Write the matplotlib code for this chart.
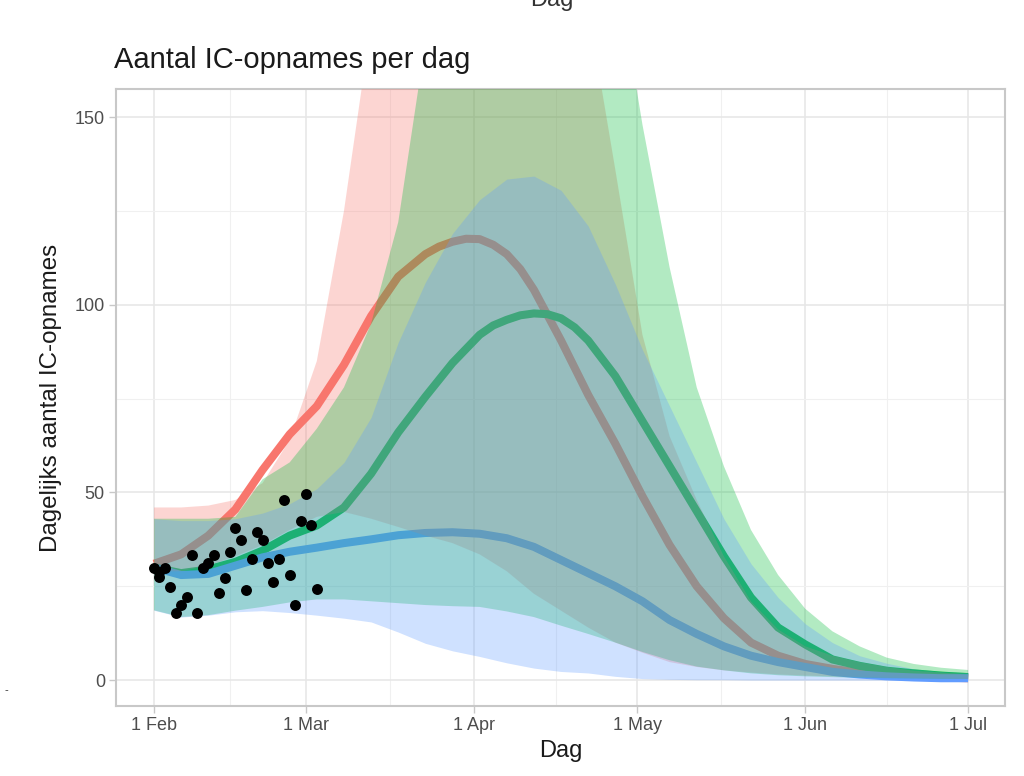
import matplotlib
matplotlib.use("Agg")
import matplotlib.pyplot as plt
import numpy as np

plt.rcParams['font.family'] = ['Liberation Sans', 'DejaVu Sans']

# dagen vanaf 1 februari 2021 (banden)
days = np.arange(0, 151, 5)

# scenario 1 (rood)
rood_dag = [0, 5, 10, 15, 20, 25, 30, 35, 40, 45, 50, 52.5, 55, 57.5, 60, 62.5, 65, 67.5, 70,
            75, 80, 85, 90, 95, 100, 105, 110, 115, 120, 125, 130, 135, 140, 145, 150]
rood_mid = [31, 33.5, 38.5, 45.5, 56, 65.5, 73, 84, 97, 107.5, 113.5, 115.5, 116.8, 117.6, 117.5,
            116, 113.5, 109.5, 104, 90.5, 76, 63, 49, 36, 25, 16.5, 10, 6.5, 4.3, 3, 2, 1.5, 1,
            0.7, 0.5]
rood_hoog = [46, 46, 46.5, 48, 52.5, 64, 85, 125, 175, 240, 290, 320, 330, 320, 290,
             250, 179, 136, 92, 65, 48, 33, 21, 13.5, 9, 6.5, 4.8, 3.5, 2.5, 2, 1.5]
rood_laag = [29, 29, 30.5, 33, 36, 40, 43.5, 44.8, 43, 40.8, 38.5, 36.5, 33.5, 29, 23,
             18.5, 14, 10, 7.3, 4.8, 3.5, 2.6, 2, 1.5, 1.2, 1, 0.8, 0.6, 0.5, 0.4, 0.3]

# scenario 2 (groen)
groen_dag = [0, 5, 10, 15, 20, 25, 30, 35, 40, 45, 50, 55, 60, 62.5, 65, 67.5, 70, 72.5, 75,
             77.5, 80, 85, 90, 95, 100, 105, 110, 115, 120, 125, 130, 135, 140, 145, 150]
groen_mid = [30, 28.5, 29.5, 31.5, 34.5, 38.5, 41.2, 46, 55, 66, 75.5, 84.5, 92, 94.5, 96,
             97.2, 97.7, 97.5, 96.4, 94, 90.5, 81, 69, 57, 45, 33, 22, 14, 9.5, 5.5, 3.8, 2.5,
             1.8, 1.2, 0.8]
groen_hoog = [43, 43, 43, 43.5, 53.5, 58, 67, 78, 95, 122, 170, 220, 260, 280, 280,
              260, 230, 192, 148, 110, 78, 57, 40, 28, 19, 13, 9, 6, 4.3, 3.3, 2.7]
groen_laag = [18.6, 16.8, 17.3, 18.5, 19.5, 20.7, 21.5, 21.5, 21, 20.5, 20, 19.7, 19.5, 18.3, 16.8,
              14.5, 12.3, 10, 7.5, 5.3, 3.6, 2.6, 1.8, 1.3, 1, 0.8, 0.6, 0.5, 0.4, 0.3, 0.3]

# scenario 3 (blauw)
blauw_mid = [30, 28, 28.3, 30.5, 32.7, 34.2, 35.3, 36.5, 37.5, 38.6, 39.2, 39.4, 39, 37.8, 35.5,
             32, 28.5, 25, 21, 16, 12.3, 9, 6.5, 4.8, 3.5, 2.2, 1.5, 1, 0.7, 0.5, 0.5]
blauw_hoog = [43, 42.5, 42.5, 43, 44.5, 47, 51, 58, 70, 90, 106, 119, 128, 133.5, 134.3,
              130.5, 121, 105.5, 88, 73, 58, 43, 31, 22, 15, 10, 6.5, 4.5, 3, 2.3, 2]
blauw_laag = [18.6, 16.8, 17.3, 18.2, 18.5, 18, 17.3, 16.5, 15.5, 12.8, 9.8, 7.8, 6.3, 4.6, 3.2,
              2.3, 1.9, 1, 0.4, 0.2, 0.1, 0.1, 0, 0, 0, 0, 0, 0, 0, 0, 0]

# waargenomen IC-opnames
obs_dag = [0, 1, 1, 2, 3, 4, 5, 6, 7, 8, 9, 10, 11, 12, 13, 14, 15, 16, 17, 18, 19, 20,
           21, 22, 23, 24, 25, 26, 27, 28, 29, 30]
obs_val = [30, 27.5, 28.8, 30, 24.9, 17.8, 20, 22.2, 33.3, 17.8, 29.8, 31.1, 33.3, 23.1, 27.1, 34.2,
           40.4, 37.3, 24, 32.4, 39.5, 37.3, 31.1, 26.2, 32.4, 48, 28, 20, 42.4, 49.7, 41.3, 24.2]

tick_days = [0, 28, 59, 89, 120, 150]
tick_labels = ['1 Feb', '1 Mar', '1 Apr', '1 May', '1 Jun', '1 Jul']

kleuren = ['#F8766D', '#00BA38', '#619CFF']

fig = plt.figure(figsize=(10.24, 7.76), dpi=100)
ax = fig.add_axes([116/1024, 70/776, 889/1024, 617/776])

# lijnen eerst, banden eroverheen (zoals in ggplot)
for dag, mid, kl in zip([rood_dag, groen_dag, days], [rood_mid, groen_mid, blauw_mid], kleuren):
    ax.plot(dag, mid, color=kl, lw=5.8, solid_capstyle='butt', solid_joinstyle='round', zorder=2)
for hoog, laag, kl in zip([rood_hoog, groen_hoog, blauw_hoog],
                          [rood_laag, groen_laag, blauw_laag], kleuren):
    ax.fill_between(days, laag, hoog, color=kl, alpha=0.3, lw=0, zorder=3)

ax.scatter(obs_dag, obs_val, s=62, color='black', zorder=4, lw=0)

ax.set_xlim(-7, 156.8)
ax.set_ylim(-6.9, 157.5)
ax.set_xticks(tick_days)
ax.set_xticklabels(tick_labels)
ax.set_xticks([(a + b) / 2 for a, b in zip(tick_days[:-1], tick_days[1:])], minor=True)
ax.set_yticks([0, 50, 100, 150])
ax.set_yticks([25, 75, 125], minor=True)

ax.grid(which='major', color='#E6E6E6', lw=1.1, zorder=0)
ax.grid(which='minor', color='#F0F0F0', lw=0.8, zorder=0)
ax.set_axisbelow(True)
for s in ax.spines.values():
    s.set_color('#C8C8C8')
    s.set_linewidth(1.5)
ax.tick_params(which='major', length=5, width=1, color='#C8C8C8',
               labelsize=13, labelcolor='#4D4D4D', pad=3)
ax.tick_params(which='minor', length=0)

ax.set_xlabel('Dag', fontsize=17, color='#1A1A1A', labelpad=4)
ax.set_ylabel('Dagelijks aantal IC-opnames', fontsize=17.4, color='#1A1A1A', labelpad=9)

fig.text(114/1024, 1 - 68/776, 'Aantal IC-opnames per dag', fontsize=21,
         color='#1A1A1A', ha='left', va='baseline')
# afgesneden tekst bovenaan het beeld
fig.text(552/1024, 1 - 6/776, 'Dag', fontsize=17, color='#333333',
         ha='center', va='baseline')
fig.text(6/1024, 1 - 690/776, '-', fontsize=8, color='#333333', ha='center', va='center')

fig.savefig('out.png', dpi=100)
